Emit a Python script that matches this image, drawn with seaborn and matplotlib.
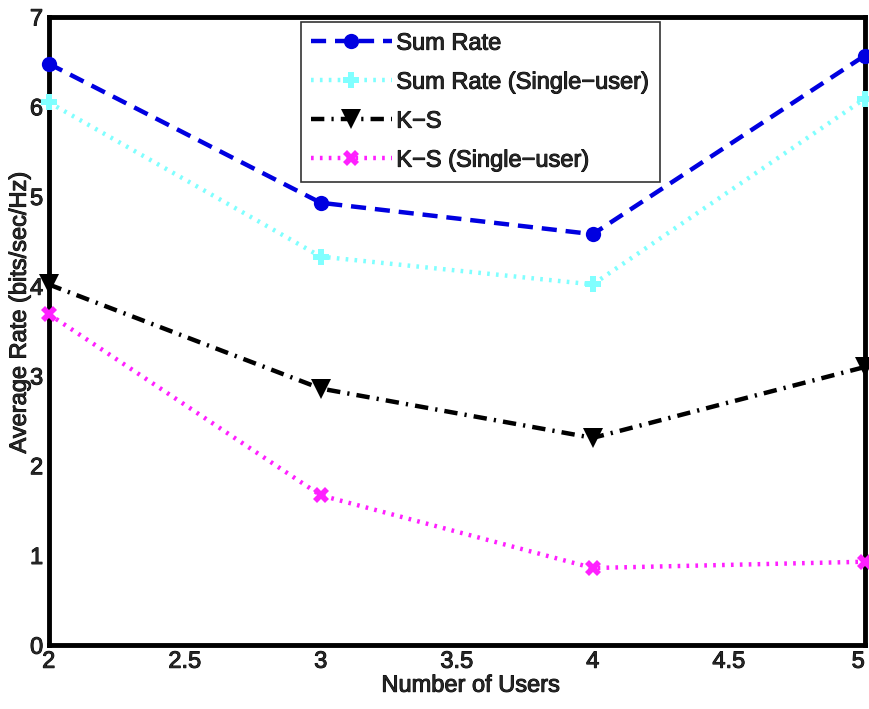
import matplotlib
matplotlib.use("Agg")
import matplotlib.pyplot as plt
import matplotlib.patheffects as pe
import seaborn as sns
import pandas as pd

users = [2, 3, 4, 5]
sum_rate = [6.48, 4.93, 4.58, 6.57]
sum_rate_single = [6.05, 4.33, 4.02, 6.09]
ks = [4.02, 2.86, 2.31, 3.10]
ks_single = [3.69, 1.67, 0.86, 0.93]

labels = ["Sum Rate", "Sum Rate (Single\u2212user)", "K\u2212S", "K\u2212S (Single\u2212user)"]

sns.set_style("white")
plt.rcParams["font.family"] = ["Liberation Sans", "DejaVu Sans"]

fig = plt.figure(figsize=(8.7, 7.09), dpi=100)
ax = fig.add_axes([0.056, 0.09, 0.938, 0.886])

styles = [
    dict(color="#0000e0", linestyle=(0, (3.4, 2.0)), marker="o", markersize=11),
    dict(color="#80ffff", linestyle=(0, (0.6, 1.4)), marker="P", markersize=11),
    dict(color="black", linestyle=(0, (3, 1.6, 0.5, 1.6)), marker="v", markersize=15),
    dict(color="#ff20ff", linestyle=(0, (0.6, 1.4)), marker="X", markersize=12),
]
series = [sum_rate, sum_rate_single, ks, ks_single]

for vals, lab, st in zip(series, labels, styles):
    df = pd.DataFrame({"users": users, "rate": vals})
    sns.lineplot(data=df, x="users", y="rate", ax=ax, label=lab, linewidth=3.2,
                 markeredgewidth=0, clip_on=False, zorder=3, **st)

ax.set_xlim(2, 5)
ax.set_ylim(0, 7)
ax.set_xticks([2, 2.5, 3, 3.5, 4, 4.5, 5])
ax.set_xticklabels(["2", "2.5", "3", "3.5", "4", "4.5", "5"])
ax.set_yticks(range(8))
ax.tick_params(direction="in", length=6, width=3, labelsize=17, pad=4)
# keep the last x tick label inside the canvas
ax.get_xticklabels()[-1].set_horizontalalignment("right")
for s in ax.spines.values():
    s.set_linewidth(3.5)
    s.set_color("black")
ax.set_xlabel("Number of Users", fontsize=17)
ax.set_ylabel("Average Rate (bits/sec/Hz)", fontsize=17)
ax.xaxis.set_label_coords(0.517, -0.047)
ax.yaxis.set_label_coords(-0.022, 0.53)

leg = ax.legend(loc="upper center", bbox_to_anchor=(0.529, 0.992),
                prop={"size": 17},
                frameon=True, fancybox=False, handlelength=3.4, borderpad=0.45,
                labelspacing=0.72, handletextpad=0.2, borderaxespad=0)
leg.get_frame().set_edgecolor("black")
leg.get_frame().set_linewidth(1.2)

# slightly heavier glyphs for all text
halo = [pe.withStroke(linewidth=0.7, foreground="black")]
texts = (ax.get_xticklabels() + ax.get_yticklabels()
         + [ax.xaxis.label, ax.yaxis.label] + leg.get_texts())
for t in texts:
    t.set_path_effects(halo)

fig.savefig("out.png", dpi=100)
